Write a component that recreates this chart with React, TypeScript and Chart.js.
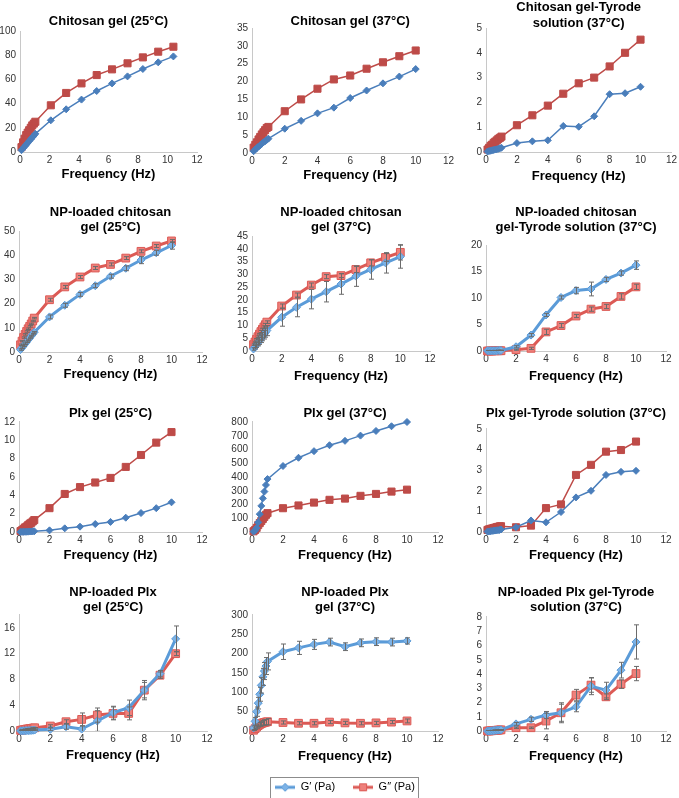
import React, { useEffect, useRef } from 'react';
import { Chart, registerables } from 'chart.js';

Chart.register(...registerables);

// ---------- data ----------
const FREQ = [0.1, 0.2, 0.3, 0.4, 0.5, 0.6, 0.7, 0.8, 0.9, 1, 2, 3, 4, 5, 6, 7, 8, 9, 10];
const FREQ_CHITOSAN_25 = [0.1, 0.21, 0.31, 0.42, 0.52, 0.62, 0.73, 0.83, 0.94, 1.04, 2.09, 3.13, 4.17, 5.2, 6.24, 7.29, 8.33, 9.37, 10.4];
const X_TICKS = [0, 2, 4, 6, 8, 10, 12];
const SERIES_NAMES = ['G\u2032 (Pa)', 'G\u2033 (Pa)'];

// Chitosan gel (25°C)
const chitosan25G1 = [1.5, 3, 4.5, 6, 7.5, 9, 10.5, 12, 13.5, 15, 26.2, 35.3, 43.3, 50.4, 56.7, 62.5, 68.6, 74.1, 79];
const chitosan25G2 = [4, 8, 11, 14, 16, 18, 20, 22, 23.5, 25, 38.6, 48.8, 56.7, 63.6, 68.3, 73.3, 78.2, 82.9, 87];
// Chitosan gel (37°C)
const chitosan37G1 = [0.5, 1, 1.4, 1.8, 2.2, 2.6, 3, 3.3, 3.7, 4, 6.8, 9, 11.1, 12.7, 15.4, 17.5, 19.5, 21.4, 23.5];
const chitosan37G2 = [1.5, 2.3, 3, 3.8, 4.5, 5.2, 5.8, 6.4, 7, 7.3, 11.7, 15, 18, 20.6, 21.7, 23.6, 25.4, 27.1, 28.7];
// Chitosan gel-Tyrode solution (37°C)
const chitosanTyrG1 = [0.02, 0.04, 0.05, 0.07, 0.08, 0.1, 0.11, 0.13, 0.15, 0.17, 0.36, 0.43, 0.47, 1.05, 1.02, 1.44, 2.33, 2.37, 2.63];
const chitosanTyrG2 = [0.1, 0.17, 0.25, 0.3, 0.37, 0.42, 0.47, 0.53, 0.57, 0.62, 1.08, 1.48, 1.87, 2.35, 2.77, 3.0, 3.45, 4.0, 4.53];
// NP-loaded chitosan gel (25°C)
const npChitosan25G1 = [1, 1.8, 2.6, 3.4, 4.2, 5, 5.8, 6.6, 7.4, 8.2, 14.5, 19.3, 23.8, 27.4, 31.3, 34.6, 38, 41, 44];
const npChitosan25G2 = [3, 4.5, 6, 7.3, 8.5, 9.6, 10.6, 11.6, 12.8, 14, 21.6, 26.9, 31, 34.7, 36.2, 38.8, 41.6, 43.8, 45.9];
const npChitosan25E1 = [0.3, 0.3, 0.3, 0.3, 0.3, 0.3, 0.3, 0.3, 0.3, 0.3, 0.8, 0.8, 0.8, 0.8, 0.8, 1, 1.5, 1, 1.5];
const npChitosan25E2 = [0.3, 0.3, 0.3, 0.3, 0.3, 0.3, 0.3, 0.3, 0.3, 0.3, 0.6, 0.6, 0.6, 0.6, 0.6, 0.6, 0.6, 0.6, 0.6];
// NP-loaded chitosan gel (37°C)
const npChitosan37G1 = [0.8, 1.6, 2.4, 3.2, 4, 4.8, 5.6, 6.4, 7.2, 8, 13.2, 17.1, 20.3, 23.2, 26.2, 29.3, 31.9, 34.5, 36.9];
const npChitosan37G2 = [2.5, 3.5, 4.6, 5.6, 6.6, 7.6, 8.5, 9.4, 10.3, 11.3, 17.6, 21.9, 25.8, 29.1, 29.5, 31.9, 34.5, 36.6, 38.6];
const npChitosan37E1 = [0.5, 0.8, 1, 1.2, 1.4, 1.5, 1.6, 1.7, 1.8, 2, 3.5, 3.7, 3.8, 4, 4, 4, 3.8, 4, 4.5];
const npChitosan37E2 = [0.3, 0.3, 0.3, 0.3, 0.3, 0.4, 0.4, 0.4, 0.5, 0.5, 0.8, 0.8, 0.8, 0.8, 0.8, 1.2, 1.2, 1.5, 3];
// NP-loaded chitosan gel-Tyrode solution (37°C)
const npChitosanTyrG1 = [0.05, 0.05, 0.05, 0.05, 0.05, 0.05, 0.05, 0.1, 0.1, 0.1, 0.8, 3.0, 6.8, 10.1, 11.4, 11.7, 13.5, 14.7, 16.2];
const npChitosanTyrG2 = [0, 0, 0, 0, 0.05, 0.05, 0.05, 0.05, 0.05, 0.05, 0.25, 0.5, 3.6, 4.8, 6.6, 7.9, 8.4, 10.3, 12.1];
const npChitosanTyrE1 = [0.05, 0.05, 0.05, 0.05, 0.05, 0.05, 0.05, 0.05, 0.05, 0.05, 0.2, 0.3, 0.3, 0.3, 0.6, 1.3, 0.4, 0.4, 0.8];
const npChitosanTyrE2 = [0.05, 0.05, 0.05, 0.05, 0.05, 0.05, 0.05, 0.05, 0.05, 0.05, 0.1, 0.2, 0.5, 0.4, 0.3, 0.4, 0.4, 0.5, 0.5];
// Plx gel (25°C)
const plx25G1 = [0.01, 0.015, 0.02, 0.025, 0.03, 0.04, 0.05, 0.06, 0.07, 0.08, 0.18, 0.4, 0.58, 0.87, 1.1, 1.56, 2.07, 2.6, 3.24];
const plx25G2 = [0.1, 0.2, 0.35, 0.5, 0.6, 0.75, 0.9, 1.0, 1.15, 1.3, 2.6, 4.15, 4.9, 5.4, 5.9, 7.1, 8.4, 9.75, 10.9];
// Plx gel (37°C)
const plx37G1 = [3, 10, 30, 70, 130, 190, 245, 294, 342, 385, 480, 540, 588, 631, 663, 701, 735, 769, 800];
const plx37G2 = [5, 15, 30, 50, 65, 80, 95, 110, 125, 137, 173, 193, 214, 234, 243, 263, 277, 294, 308];
// Plx gel-Tyrode solution (37°C)
const plxTyrG1 = [0.02, 0.03, 0.04, 0.05, 0.06, 0.07, 0.08, 0.09, 0.1, 0.12, 0.23, 0.56, 0.47, 0.97, 1.68, 2.0, 2.77, 2.92, 2.97];
const plxTyrG2 = [0.1, 0.13, 0.15, 0.17, 0.19, 0.21, 0.23, 0.25, 0.27, 0.28, 0.23, 0.31, 1.16, 1.34, 2.77, 3.26, 3.9, 3.98, 4.39];
// NP-loaded Plx gel (25°C)
const npPlx25G1 = [0.02, 0.03, 0.04, 0.05, 0.06, 0.07, 0.08, 0.1, 0.12, 0.15, 0.26, 0.67, 0.3, 1.55, 2.84, 3.6, 6.34, 8.9, 14.3];
const npPlx25G2 = [0.1, 0.15, 0.2, 0.25, 0.3, 0.33, 0.37, 0.4, 0.45, 0.5, 0.77, 1.44, 1.8, 2.47, 2.73, 2.73, 6.34, 8.66, 12.0];
const npPlx25E1 = [0.05, 0.05, 0.05, 0.05, 0.05, 0.05, 0.05, 0.05, 0.05, 0.05, 0.2, 0.4, 0.5, 1.6, 1.0, 1.2, 1.5, 0.5, 2.0];
const npPlx25E2 = [0.05, 0.05, 0.05, 0.05, 0.05, 0.05, 0.05, 0.05, 0.05, 0.05, 0.2, 0.3, 1.0, 1.1, 1.0, 1.0, 1.2, 0.5, 0.3];
// NP-loaded Plx gel (37°C)
const npPlx37G1 = [8, 25, 50, 72, 95, 118, 140, 155, 168, 180, 205, 215, 224, 230, 218, 228, 231, 230, 233];
const npPlx37G2 = [2, 6, 10, 14, 17, 19, 21, 22, 23, 24, 22, 20, 20, 23, 21, 20, 21, 23, 26];
const npPlx37E1 = [5, 10, 12, 15, 18, 20, 22, 22, 22, 22, 20, 17, 13, 10, 10, 10, 10, 10, 8];
const npPlx37E2 = [1, 2, 3, 4, 5, 6, 6, 7, 7, 8, 4, 4, 4, 4, 4, 4, 4, 4, 5];
// NP-loaded Plx gel-Tyrode solution (37°C)
const npPlxTyrG1 = [0, 0, 0.01, 0.02, 0.03, 0.04, 0.05, 0.06, 0.07, 0.08, 0.5, 0.82, 1.12, 1.28, 1.7, 3.15, 2.87, 4.27, 6.25];
const npPlxTyrG2 = [0, 0, 0.01, 0.02, 0.03, 0.04, 0.05, 0.06, 0.07, 0.08, 0.23, 0.23, 0.7, 1.28, 2.52, 3.22, 2.4, 3.29, 4.03];
const npPlxTyrE1 = [0.02, 0.02, 0.02, 0.02, 0.02, 0.02, 0.02, 0.02, 0.02, 0.02, 0.1, 0.15, 0.25, 0.7, 0.35, 0.6, 0.55, 0.55, 1.2];
const npPlxTyrE2 = [0.02, 0.02, 0.02, 0.02, 0.02, 0.02, 0.02, 0.02, 0.02, 0.02, 0.05, 0.05, 0.55, 0.6, 0.4, 0.5, 0.2, 0.3, 0.5];

// ---------- panel layout ----------
type Panel = {
  title: string[];
  cell: number[];
  x0: number; x12: number; yTop: number; y0: number;
  titleY: number; freqY: number;
  yMax: number; yStep: number;
  freq: number[]; g1: number[]; g2: number[];
  e1?: number[]; e2?: number[];
  thick: boolean; legend?: boolean;
};

const PANELS: Panel[] = [
  { title: ['Chitosan gel (25\u00B0C)'], cell: [0, 0, 220, 190], x0: 20, x12: 197, yTop: 31, y0: 152, titleY: 21, freqY: 174, yMax: 100, yStep: 20, freq: FREQ_CHITOSAN_25, g1: chitosan25G1, g2: chitosan25G2, thick: false },
  { title: ['Chitosan gel (37\u00B0C)'], cell: [220, 0, 236, 190], x0: 252, x12: 450, yTop: 28, y0: 153, titleY: 21, freqY: 175, yMax: 35, yStep: 5, freq: FREQ, g1: chitosan37G1, g2: chitosan37G2, thick: false },
  { title: ['Chitosan gel-Tyrode', 'solution (37\u00B0C)'], cell: [449, 0, 230, 190], x0: 486, x12: 673, yTop: 28, y0: 152, titleY: 6, freqY: 176, yMax: 5, yStep: 1, freq: FREQ, g1: chitosanTyrG1, g2: chitosanTyrG2, thick: false },
  { title: ['NP-loaded chitosan', 'gel (25\u00B0C)'], cell: [0, 190, 220, 200], x0: 19, x12: 202, yTop: 231, y0: 352, titleY: 212, freqY: 374, yMax: 50, yStep: 10, freq: FREQ, g1: npChitosan25G1, g2: npChitosan25G2, e1: npChitosan25E1, e2: npChitosan25E2, thick: true },
  { title: ['NP-loaded chitosan', 'gel (37\u00B0C)'], cell: [220, 190, 229, 200], x0: 252, x12: 430, yTop: 236, y0: 351, titleY: 212, freqY: 376, yMax: 45, yStep: 5, freq: FREQ, g1: npChitosan37G1, g2: npChitosan37G2, e1: npChitosan37E1, e2: npChitosan37E2, thick: true },
  { title: ['NP-loaded chitosan', 'gel-Tyrode solution (37\u00B0C)'], cell: [449, 190, 230, 200], x0: 486, x12: 666, yTop: 245, y0: 351, titleY: 212, freqY: 376, yMax: 20, yStep: 5, freq: FREQ, g1: npChitosanTyrG1, g2: npChitosanTyrG2, e1: npChitosanTyrE1, e2: npChitosanTyrE2, thick: true },
  { title: ['Plx gel (25\u00B0C)'], cell: [0, 390, 220, 190], x0: 19, x12: 202, yTop: 422, y0: 532, titleY: 413, freqY: 555, yMax: 12, yStep: 2, freq: FREQ, g1: plx25G1, g2: plx25G2, thick: false },
  { title: ['Plx gel (37\u00B0C)'], cell: [220, 390, 229, 190], x0: 252, x12: 438, yTop: 422, y0: 532, titleY: 413, freqY: 555, yMax: 800, yStep: 100, freq: FREQ, g1: plx37G1, g2: plx37G2, thick: false },
  { title: ['Plx gel-Tyrode solution (37\u00B0C)'], cell: [449, 390, 230, 190], x0: 486, x12: 666, yTop: 429, y0: 532, titleY: 413, freqY: 555, yMax: 5, yStep: 1, freq: FREQ, g1: plxTyrG1, g2: plxTyrG2, thick: false },
  { title: ['NP-loaded Plx', 'gel (25\u00B0C)'], cell: [0, 580, 220, 218], x0: 19, x12: 207, yTop: 615, y0: 731, titleY: 592, freqY: 755, yMax: 18, yStep: 4, freq: FREQ, g1: npPlx25G1, g2: npPlx25G2, e1: npPlx25E1, e2: npPlx25E2, thick: true },
  { title: ['NP-loaded Plx', 'gel (37\u00B0C)'], cell: [220, 580, 229, 218], x0: 252, x12: 438, yTop: 615, y0: 731, titleY: 592, freqY: 756, yMax: 300, yStep: 50, freq: FREQ, g1: npPlx37G1, g2: npPlx37G2, e1: npPlx37E1, e2: npPlx37E2, thick: true, legend: true },
  { title: ['NP-loaded Plx gel-Tyrode', 'solution (37\u00B0C)'], cell: [449, 580, 230, 218], x0: 486, x12: 666, yTop: 617, y0: 731, titleY: 592, freqY: 756, yMax: 8, yStep: 1, freq: FREQ, g1: npPlxTyrG1, g2: npPlxTyrG2, e1: npPlxTyrE1, e2: npPlxTyrE2, thick: true },
];

const FONT = 'Arial, "Liberation Sans", Helvetica, sans-serif';
const TITLE_SIZE = 13;
const LH = TITLE_SIZE * 1.2;
const LEGEND_H = 34;

const STYLE = {
  thin: { blue: '#4A7EBB', red: '#BE4B48', blueFill: '#4A7EBB', redFill: '#BE4B48', width: 1.5, dR: 3.5, sR: 5 },
  thick: { blue: '#5B9BD8', red: '#DC5A55', blueFill: '#7CB2E6', redFill: '#EE807B', width: 3, dR: 4, sR: 5.5 },
};

// ---------- plugins ----------
const errorBarPlugin = {
  id: 'errorBars',
  afterDatasetsDraw(chart: any) {
    const ctx = chart.ctx;
    const ca = chart.chartArea;
    const yScale = chart.scales.y;
    ctx.save();
    ctx.beginPath();
    ctx.rect(ca.left, ca.top - 4, ca.right - ca.left, ca.bottom - ca.top + 4);
    ctx.clip();
    chart.data.datasets.forEach((ds: any, i: number) => {
      if (!ds.errors) return;
      const meta = chart.getDatasetMeta(i);
      ctx.strokeStyle = '#6b6b6b';
      ctx.lineWidth = 1;
      meta.data.forEach((pt: any, j: number) => {
        const e = ds.errors[j];
        if (!e) return;
        const v = ds.data[j].y;
        const hi = yScale.getPixelForValue(v + e);
        const lo = yScale.getPixelForValue(v - e);
        const x = Math.round(pt.x) + 0.5;
        ctx.beginPath();
        ctx.moveTo(x, hi); ctx.lineTo(x, lo);
        ctx.moveTo(x - 2.5, hi); ctx.lineTo(x + 2.5, hi);
        ctx.moveTo(x - 2.5, lo); ctx.lineTo(x + 2.5, lo);
        ctx.stroke();
      });
    });
    ctx.restore();
  },
};

const fixedLegendPlugin = {
  id: 'fixedLegend',
  beforeLayout(chart: any) {
    const lg = chart.legend;
    if (!lg || lg.__fixed) return;
    const orig = lg.fit.bind(lg);
    lg.fit = function () { orig(); this.height = LEGEND_H; };
    lg.__fixed = true;
  },
  afterDraw(chart: any) {
    const lg = chart.legend;
    if (!lg || !lg.legendHitBoxes || !lg.legendHitBoxes.length) return;
    const boxes = lg.legendHitBoxes;
    let l = Infinity, r = -Infinity, t = Infinity, b = -Infinity;
    boxes.forEach((h: any) => { l = Math.min(l, h.left); r = Math.max(r, h.left + h.width); t = Math.min(t, h.top); b = Math.max(b, h.top + h.height); });
    const ctx = chart.ctx;
    ctx.save();
    ctx.strokeStyle = '#8c8c8c';
    ctx.lineWidth = 1;
    ctx.strokeRect(Math.round(l - 5) + 0.5, Math.round(t - 5) + 0.5, Math.round(r - l + 8), Math.round(b - t + 10));
    ctx.restore();
  },
};

function legendIcon(color: string, fill: string, square: boolean) {
  const c = document.createElement('canvas');
  c.width = 20; c.height = 10;
  const g = c.getContext('2d')!;
  g.strokeStyle = color; g.lineWidth = 3;
  g.beginPath(); g.moveTo(0, 5); g.lineTo(20, 5); g.stroke();
  g.fillStyle = fill; g.lineWidth = 1;
  g.beginPath();
  if (square) { g.rect(6.5, 1.5, 7, 7); } else { g.moveTo(10, 1); g.lineTo(14, 5); g.lineTo(10, 9); g.lineTo(6, 5); g.closePath(); }
  g.fill(); g.stroke();
  return c;
}

function buildConfig(p: Panel): any {
  const st = p.thick ? STYLE.thick : STYLE.thin;
  const [L, T, W, H] = p.cell;
  const yW = Math.min(26, p.x0 - L);
  const padLeft = p.x0 - L - yW;
  const padRight = L + W - p.x12;
  const titleTop = Math.max(T, p.titleY - LH / 2);
  const padTop = titleTop - T;
  const titleBottomPad = p.yTop - (titleTop + LH * p.title.length);
  const xH = p.freqY - p.y0 + LH / 2;
  const padBottom = T + H - p.y0 - xH - (p.legend ? LEGEND_H : 0);

  const mk = (i: number) => {
    const ys = i === 0 ? p.g1 : p.g2;
    const errs = i === 0 ? p.e1 : p.e2;
    const col = i === 0 ? st.blue : st.red;
    const fill = i === 0 ? st.blueFill : st.redFill;
    return {
      label: SERIES_NAMES[i],
      data: p.freq.map((x, k) => ({ x, y: ys[k] })),
      errors: errs,
      borderColor: col,
      backgroundColor: col,
      borderWidth: st.width,
      pointStyle: i === 0 ? 'rectRot' : 'rect',
      pointRadius: i === 0 ? st.dR : st.sR,
      pointBackgroundColor: fill,
      pointBorderColor: col,
      pointBorderWidth: 1,
      tension: 0,
      clip: false,
    };
  };

  const plugins: any[] = [errorBarPlugin];
  if (p.legend) plugins.push(fixedLegendPlugin);

  return {
    type: 'line',
    data: { datasets: [mk(0), mk(1)] },
    plugins,
    options: {
      responsive: false,
      animation: false,
      devicePixelRatio: 1,
      events: [],
      layout: { padding: { left: padLeft, right: padRight, top: padTop, bottom: padBottom } },
      plugins: {
        title: {
          display: true,
          text: p.title,
          color: '#000',
          fullSize: false,
          font: { family: FONT, size: TITLE_SIZE, weight: 'bold', lineHeight: 1.2 },
          padding: { top: 0, bottom: titleBottomPad },
        },
        legend: p.legend
          ? {
              display: true,
              position: 'bottom',
              fullSize: false,
              labels: {
                usePointStyle: true,
                pointStyleWidth: 20,
                padding: 18,
                color: '#000',
                font: { family: FONT, size: 11 },
                generateLabels: () => [
                  { text: SERIES_NAMES[0], pointStyle: legendIcon(st.blue, st.blueFill, false), fillStyle: st.blue, strokeStyle: st.blue, lineWidth: 0, hidden: false, datasetIndex: 0 },
                  { text: SERIES_NAMES[1], pointStyle: legendIcon(st.red, st.redFill, true), fillStyle: st.red, strokeStyle: st.red, lineWidth: 0, hidden: false, datasetIndex: 1 },
                ],
              },
            }
          : { display: false },
        tooltip: { enabled: false },
      },
      scales: {
        x: {
          type: 'linear',
          min: 0,
          max: 12,
          afterBuildTicks: (s: any) => { s.ticks = X_TICKS.map((v) => ({ value: v })); },
          afterFit: (s: any) => { s.height = xH; },
          grid: { display: true, drawOnChartArea: false, drawTicks: false },
          border: { display: true, color: '#C8C8C8', width: 1 },
          ticks: { color: '#333', padding: 2, font: { family: FONT, size: 10 }, maxRotation: 0, autoSkip: false },
          title: { display: true, text: 'Frequency (Hz)', color: '#000', padding: 0, font: { family: FONT, size: 13, weight: 'bold', lineHeight: 1.2 } },
        },
        y: {
          type: 'linear',
          min: 0,
          max: p.yMax,
          afterBuildTicks: (s: any) => {
            const t: any[] = [];
            for (let v = 0; v <= p.yMax + 1e-9; v += p.yStep) t.push({ value: Math.round(v * 1000) / 1000 });
            s.ticks = t;
          },
          afterFit: (s: any) => { s.width = yW; },
          grid: { display: true, drawOnChartArea: false, drawTicks: false },
          border: { display: true, color: '#C8C8C8', width: 1 },
          ticks: { color: '#333', padding: 4, font: { family: FONT, size: 10 }, autoSkip: false },
        },
      },
    },
  };
}

function PanelChart({ p }: { p: Panel }) {
  const ref = useRef<HTMLCanvasElement>(null);
  useEffect(() => {
    const chart = new Chart(ref.current!, buildConfig(p));
    return () => chart.destroy();
  }, [p]);
  const [L, T, W, H] = p.cell;
  return (
    <canvas
      ref={ref}
      width={W}
      height={H}
      style={{ position: 'absolute', left: L, top: T, width: W, height: H, display: 'block' }}
    />
  );
}

export default function App() {
  return (
    <div style={{ position: 'absolute', left: 0, top: 0, width: 679, height: 798, background: '#fff', overflow: 'hidden' }}>
      {PANELS.map((p, i) => (
        <PanelChart key={i} p={p} />
      ))}
    </div>
  );
}
